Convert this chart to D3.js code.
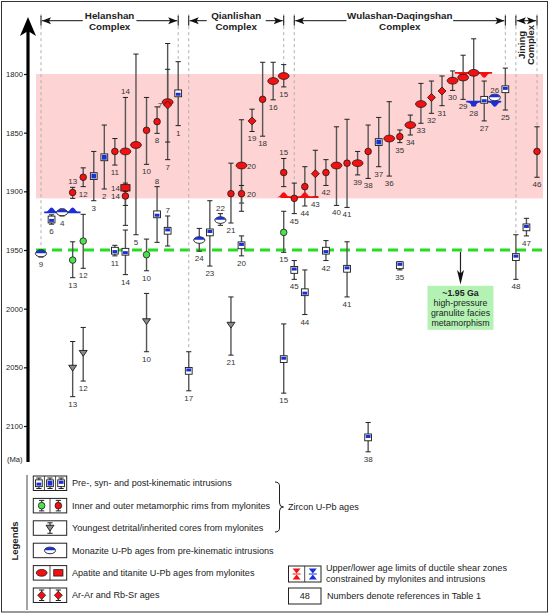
<!DOCTYPE html>
<html>
<head>
<meta charset="utf-8">
<script src="https://d3js.org/d3.v7.min.js"></script>
<style>
  body { margin: 0; background: #fff; }
  svg { display: block; font-family: "Liberation Sans", Arial, sans-serif; }
</style>
</head>
<body>
<svg id="chart"></svg>
<script>
const width = 550,
      height = 615;

// tectonic complexes, given as first / last sample slot
const complexes = [
  { name: ["Helanshan", "Complex"], from: 0, to: 13 },
  { name: ["Qianlishan", "Complex"], from: 14, to: 23 },
  { name: ["Wulashan-Daqingshan", "Complex"], from: 24, to: 44 },
  { name: ["Jining", "Complex"], from: 45, to: 47, vertical: true }
];
// dashed separators: [slot, lowest age reached]
const separators = [[0, 1948], [13, 1790], [14, 2035], [23, 1792], [24, 1905], [44, 1795], [45, 1937], [47, 1845]];

const ageTicks = [1800, 1850, 1900, 1950, 2000, 2050, 2100];
const shearBand = [1800, 1906];
const hpAge = 1950;

// all rows: [slot, age, young limit, old limit, ref no., label side]
// zircon U-Pb, intrusions (pre / syn / post kinematic)
const intrusions = [
  [1, 1924, 1920, 1928, "6", "b", "pre"],
  [5, 1887, 1866, 1908, "3", "b", "syn"],
  [6, 1871, 1843.5, 1898, "2", "b", "syn"],
  [7, 1950.6, 1946, 1955, "11", "b", "pre"],
  [8, 1951.5, 1933, 1971, "14", "b", "pre"],
  [11, 1919.6, 1896, 1943.5, "8", "a", "pre"],
  [12, 1933.6, 1921, 1946.6, "7", "a", "post"],
  [13, 1816.5, 1789.5, 1844, "1", "b", "pre"],
  [14, 2053, 2036.7, 2070, "17", "b", "post"],
  [16, 1935, 1908, 1963.7, "23", "b", "post"],
  [19, 1946, 1938, 1955, "20", "b", "post"],
  [23, 2043, 2013, 2072, "15", "b", "post"],
  [24, 1967, 1959, 1975, "45", "b", "post"],
  [25, 1986, 1967, 2005, "44", "b", "pre"],
  [27, 1950.6, 1942, 1959, "42", "b", "pre"],
  [29, 1966, 1943, 1990, "41", "b", "post"],
  [31, 2109.7, 2097, 2122, "38", "b", "post"],
  [32, 1858, 1837, 1879, "37", "b", "syn"],
  [34, 1963, 1960, 1967, "35", "b", "post"],
  [42, 1822, 1806, 1840, "27", "b", "pre"],
  [44, 1813, 1795, 1830.7, "25", "b", "post"],
  [45, 1956, 1937, 1975, "48", "b", "post"],
  [46, 1930.7, 1923, 1938, "47", "b", "post"]
];
// zircon U-Pb, outer metamorphic rims
const outerRims = [
  [3, 1901, 1896.6, 1906, "13", "a"],
  [4, 1888, 1880, 1896, "12", "b"],
  [7, 1866, 1855, 1877.6, "11", "b"],
  [8, 1904, 1900, 1912, "14", "l"],
  [10, 1848, 1820, 1877, "10", "b"],
  [11, 1840.6, 1828, 1850.6, "8", "b"],
  [18, 1902, 1876, 1927, "21", "b"],
  [19, 1902, 1895, 1917, "20", "r"],
  [21, 1821.6, 1790, 1853, "18", "b"],
  [23, 1884, 1872, 1896, "15", "a"],
  [24, 1906, 1893, 1919, "45", "b"],
  [25, 1896, 1879, 1912.5, "44", "b"],
  [27, 1884, 1873, 1895, "42", "b"],
  [29, 1876, 1838.6, 1913.7, "41", "b"],
  [31, 1866, 1843.5, 1889, "38", "b"],
  [34, 1853.4, 1847.7, 1858.5, "35", "b"],
  [47, 1866, 1845, 1888, "46", "b"]
];
// zircon U-Pb, inner metamorphic rims
const innerRims = [
  [3, 1958.6, 1943, 1973.6, "13", "b"],
  [4, 1942.4, 1919.6, 1965.6, "12", "b"],
  [10, 1954, 1940.7, 1967.7, "10", "b"],
  [23, 1935, 1917, 1952, "15", "b"]
];
// zircon U-Pb, youngest detrital / inherited cores
const detritalCores = [
  [3, 2050.6, 2028, 2075, "13", "b"],
  [4, 2038, 2016, 2061.7, "12", "b"],
  [10, 2011, 1987, 2036.7, "10", "b"],
  [18, 2014, 1990, 2039.6, "21", "b"]
];
const monazite = [
  [0, 1953, 1950, 1956, "9", "b"],
  [2, 1918, 1915, 1921, "4", "b"],
  [15, 1941.5, 1931.6, 1951, "24", "b"],
  [17, 1924.5, 1919, 1929, "22", "a"],
  [43, 1820, 1818.5, 1822, "26", "a"]
];
const apatite = [
  [8, 1866, 1820, 1929, "14", "a"],
  [9, 1860.5, 1783, 1937, "5", "b"],
  [12, 1824, 1774, 1873, "7", "b"],
  [19, 1878, 1839, 1910, "20", "r"],
  [22, 1806, 1790, 1822, "16", "b"],
  [23, 1801.7, 1792, 1811, "15", "b"],
  [28, 1878, 1845, 1912, "40", "b"],
  [30, 1876, 1866, 1886, "39", "b"],
  [33, 1855, 1823.6, 1887, "36", "b"],
  [35, 1843.5, 1835, 1852, "34", "b"],
  [36, 1825.6, 1808, 1842, "33", "b"],
  [39, 1805.7, 1797.4, 1814, "30", "b"],
  [40, 1803, 1784, 1821.6, "29", "b"],
  [41, 1799, 1770, 1827, "28", "b"]
];
const titanite = [
  [8, 1897, 1893, 1906, "14", "l"]
];
const arAr = [
  [12, 1826.4, 1796, 1858, "7", "l"],
  [20, 1840, 1830, 1849, "19", "b"],
  [26, 1885, 1865, 1904.6, "43", "b"],
  [37, 1820, 1806, 1833.5, "32", "b"],
  [38, 1814.5, 1801.7, 1827, "31", "b"]
];
// age limits of shear zones: [from slot, to slot, age, hump slots, upper|lower, hump direction]
const limits = [
  [0.3, 3.75, 1918, [1, 3], "lower", "up"],
  [22.7, 26.3, 1905, [23, 25], "upper", "up"],
  [39.2, 42.75, 1799, [40, 42], "upper", "down"],
  [40.3, 43.6, 1823.6, [41, 43], "lower", "down"]
];

const RED = "#f41010", BLUE = "#1b2fd6", GREEN = "#4fe04f";

const svg = d3.select("#chart")
  .attr("width", width)
  .attr("height", height);

const x = d3.scaleLinear().domain([0, 47]).range([41, 537]);
const y = d3.scaleLinear().domain([1800, 2100]).range([74, 426]);

// frame
svg.append("rect")
  .attr("x", 1.5).attr("y", 1.5)
  .attr("width", 546).attr("height", 610.5)
  .attr("fill", "none").attr("stroke", "#333").attr("stroke-width", 1);

// shear zone band + granulite line
svg.append("rect")
  .attr("x", 36).attr("width", 507)
  .attr("y", y(shearBand[0])).attr("height", y(shearBand[1]) - y(shearBand[0]))
  .attr("fill", "#fdd3d3");

svg.append("line")
  .attr("x1", 36).attr("x2", 543)
  .attr("y1", y(hpAge)).attr("y2", y(hpAge))
  .attr("stroke", "#22dd22").attr("stroke-width", 3)
  .attr("stroke-dasharray", "10,6");

// separators
svg.append("g")
  .selectAll("line")
  .data(separators)
  .join("line")
  .attr("x1", d => x(d[0])).attr("x2", d => x(d[0]))
  .attr("y1", y(1749)).attr("y2", d => y(d[1]))
  .attr("stroke", "#b0b0b0").attr("stroke-width", 1)
  .attr("stroke-dasharray", "3,3");

// complex headers
const headY = 20.7;
function arrowHead(g, px, dir) {
  // dir -1 pointing left, +1 pointing right
  g.append("path")
    .attr("d", `M${px},${headY} L${px - dir * 9},${headY - 3.5} L${px - dir * 7},${headY} L${px - dir * 9},${headY + 3.5} Z`)
    .attr("fill", "#111");
}
complexes.forEach(c => {
  const g = svg.append("g");
  const x0 = x(c.from), x1 = x(c.to), xm = (x0 + x1) / 2;
  [x0, x1].forEach(px => g.append("line")
    .attr("x1", px).attr("x2", px).attr("y1", headY - 5).attr("y2", headY + 5)
    .attr("stroke", "#111").attr("stroke-width", 1));
  if (c.vertical) {
    g.append("line").attr("x1", x0 + 1).attr("x2", x1 - 1).attr("y1", headY).attr("y2", headY)
      .attr("stroke", "#111").attr("stroke-width", 1);
    arrowHead(g, x0 + 1, -1);
    arrowHead(g, x1 - 1, 1);
    c.name.forEach((t, i) => g.append("text")
      .attr("transform", `translate(${xm - 4.5 + i * 9},${45}) rotate(-90)`)
      .attr("text-anchor", "middle").attr("dy", "0.35em")
      .attr("font-size", 9.5).attr("font-weight", "bold").attr("fill", "#222")
      .text(t));
    return;
  }
  const tw = c.name[0].length * 5.3 / 2 + 3;
  g.append("line").attr("x1", x0 + 1).attr("x2", xm - tw).attr("y1", headY).attr("y2", headY)
    .attr("stroke", "#111").attr("stroke-width", 1);
  g.append("line").attr("x1", xm + tw).attr("x2", x1 - 1).attr("y1", headY).attr("y2", headY)
    .attr("stroke", "#111").attr("stroke-width", 1);
  arrowHead(g, x0 + 1, -1);
  arrowHead(g, x1 - 1, 1);
  c.name.forEach((t, i) => g.append("text")
    .attr("x", xm).attr("y", 19 + i * 10.5)
    .attr("text-anchor", "middle")
    .attr("font-size", 9.8).attr("font-weight", "bold").attr("fill", "#222")
    .text(t));
});

// y axis
const axis = svg.append("g")
  .attr("transform", "translate(28,0)")
  .call(d3.axisLeft(y).tickValues(ageTicks).tickSize(4).tickFormat(d3.format("d")));
axis.select(".domain").remove();
axis.selectAll(".tick line").attr("stroke", "#111").attr("stroke-width", 1.2);
axis.selectAll(".tick text")
  .attr("font-family", "Liberation Sans, Arial, sans-serif")
  .attr("font-size", 7.6).attr("fill", "#222").attr("x", -5);

svg.append("line")
  .attr("x1", 28).attr("x2", 28).attr("y1", 30).attr("y2", 462)
  .attr("stroke", "#000").attr("stroke-width", 3.2);
svg.append("path")
  .attr("d", "M28,17 L36,36 L28,31 L20,36 Z")
  .attr("fill", "#000");
svg.append("text")
  .attr("x", 7).attr("y", 461.5)
  .attr("font-size", 7.6).attr("fill", "#222")
  .text("(Ma)");

// marker drawing
function errorBar(g, px, y0, y1) {
  g.append("line").attr("x1", px).attr("x2", px).attr("y1", y0).attr("y2", y1)
    .attr("stroke", "#555").attr("stroke-width", 1.4);
  [y0, y1].forEach(v => g.append("line")
    .attr("x1", px - 2.6).attr("x2", px + 2.6).attr("y1", v).attr("y2", v)
    .attr("stroke", "#222").attr("stroke-width", 1));
}

function drawMarker(g, kind, variant, px, py) {
  const st = "#1a1a1a";
  if (kind === "square") {
    g.append("rect").attr("x", px - 3.4).attr("y", py - 3.4).attr("width", 6.8).attr("height", 6.8)
      .attr("fill", "#fff").attr("stroke", st).attr("stroke-width", 0.9);
    const top = variant === "post" ? py - 2.4 : variant === "syn" ? py - 2.4 : py - 0.6;
    const h = variant === "syn" ? 4.8 : 3;
    g.append("rect").attr("x", px - 2.4).attr("y", top).attr("width", 4.8).attr("height", h)
      .attr("fill", BLUE);
  } else if (kind === "circle") {
    g.append("circle").attr("cx", px).attr("cy", py).attr("r", 3.3)
      .attr("fill", variant === "inner" ? GREEN : RED).attr("stroke", st).attr("stroke-width", 0.8);
  } else if (kind === "tri") {
    g.append("path").attr("d", `M${px - 4},${py - 2.8} L${px + 4},${py - 2.8} L${px},${py + 3} Z`)
      .attr("fill", "#8a8a8a").attr("stroke", st).attr("stroke-width", 0.9);
  } else if (kind === "monazite") {
    g.append("ellipse").attr("cx", px).attr("cy", py).attr("rx", 5.6).attr("ry", 3.3)
      .attr("fill", "#fff").attr("stroke", st).attr("stroke-width", 0.9);
    g.append("path").attr("d", `M${px - 5.2},${py - 0.3} A5.2 3 0 0 1 ${px + 5.2},${py - 0.3} Z`)
      .attr("fill", BLUE);
  } else if (kind === "apatite") {
    g.append("ellipse").attr("cx", px).attr("cy", py).attr("rx", 5.4).attr("ry", 3.4)
      .attr("fill", RED).attr("stroke", st).attr("stroke-width", 0.8);
  } else if (kind === "titanite") {
    g.append("rect").attr("x", px - 4.6).attr("y", py - 3.2).attr("width", 9.2).attr("height", 6.4)
      .attr("fill", RED).attr("stroke", st).attr("stroke-width", 0.8);
  } else if (kind === "arar") {
    g.append("path").attr("d", `M${px},${py - 4} L${px + 4},${py} L${px},${py + 4} L${px - 4},${py} Z`)
      .attr("fill", RED).attr("stroke", st).attr("stroke-width", 0.8);
  }
}

const groups = [
  { rows: intrusions, kind: "square" },
  { rows: innerRims, kind: "circle", variant: "inner" },
  { rows: detritalCores, kind: "tri" },
  { rows: monazite, kind: "monazite" },
  { rows: apatite, kind: "apatite" },
  { rows: titanite, kind: "titanite" },
  { rows: arAr, kind: "arar" },
  { rows: outerRims, kind: "circle", variant: "outer" }
];

const barLayer = svg.append("g");
const markLayer = svg.append("g");
const labelLayer = svg.append("g")
  .attr("font-size", 8).attr("fill", "#333");

groups.forEach(gr => {
  gr.rows.forEach(r => {
    const [slot, age, young, old, ref, side] = r;
    const px = x(slot);
    errorBar(barLayer, px, y(young), y(old));
  });
});

groups.forEach(gr => {
  gr.rows.forEach(r => {
    const [slot, age, young, old, ref, side, variant] = r;
    const px = x(slot), py = y(age);
    drawMarker(markLayer, gr.kind, gr.variant || variant, px, py);
    const t = labelLayer.append("text").text(ref);
    if (side === "a") t.attr("x", px).attr("y", y(young) - 3).attr("text-anchor", "middle");
    else if (side === "l") t.attr("x", px - 5.5).attr("y", py + 3).attr("text-anchor", "end");
    else if (side === "r") t.attr("x", px + 5.5).attr("y", py + 3).attr("text-anchor", "start");
    else t.attr("x", px).attr("y", y(old) + 10).attr("text-anchor", "middle");
  });
});

// shear-zone age limits
function hump(cx, cy, dir, w, h) {
  const t = cy - dir * h;
  return `M${cx - w},${cy} C${cx - w / 2.4},${cy} ${cx - w / 3.5},${t} ${cx},${t} ` +
         `C${cx + w / 3.5},${t} ${cx + w / 2.4},${cy} ${cx + w},${cy} Z`;
}
const limitLayer = svg.append("g");
limits.forEach(([s0, s1, age, humps, type, dir]) => {
  const col = type === "upper" ? RED : BLUE;
  limitLayer.append("line")
    .attr("x1", x(s0)).attr("x2", x(s1)).attr("y1", y(age)).attr("y2", y(age))
    .attr("stroke", col).attr("stroke-width", 1.8);
  humps.forEach(s => limitLayer.append("path")
    .attr("d", hump(x(s), y(age), dir === "up" ? 1 : -1, 7.5, 5))
    .attr("fill", col));
});
// keep markers and labels above the limit lines
markLayer.raise();
labelLayer.raise();

// ~1.95 Ga annotation
const annSlot = 39.75;
svg.append("line")
  .attr("x1", x(annSlot)).attr("x2", x(annSlot))
  .attr("y1", y(1951.5)).attr("y2", y(1972))
  .attr("stroke", "#222").attr("stroke-width", 1.2);
svg.append("path")
  .attr("d", `M${x(annSlot)},${y(1979.5)} L${x(annSlot) + 3.5},${y(1967)} L${x(annSlot)},${y(1970)} L${x(annSlot) - 3.5},${y(1967)} Z`)
  .attr("fill", "#111");
svg.append("rect")
  .attr("x", x(annSlot) - 33).attr("width", 66)
  .attr("y", y(1980.5)).attr("height", 44)
  .attr("fill", "#b4f2b4");
const annText = ["~1.95 Ga", "high-pressure", "granulite facies", "metamorphism"];
svg.append("g")
  .selectAll("text")
  .data(annText)
  .join("text")
  .attr("x", x(annSlot))
  .attr("y", (d, i) => y(1980.5) + 10.5 + i * 10)
  .attr("text-anchor", "middle")
  .attr("font-size", 8.8)
  .attr("font-weight", (d, i) => i === 0 ? "bold" : "normal")
  .attr("fill", "#222")
  .text(d => d);

// legend
const legendRows = [
  { text: "Pre-, syn- and post-kinematic intrusions", cells: [["square", "pre"], ["square", "syn"], ["square", "post"]], bars: true },
  { text: "Inner and outer metamorphic rims from mylonites", cells: [["circle", "inner"], ["circle", "outer"]], bars: true },
  { text: "Youngest detrital/inherited cores from mylonites", cells: [["tri"]], bars: true },
  { text: "Monazite U-Pb ages from pre-kinematic intrusions", cells: [["monazite"]] },
  { text: "Apatite and titanite U-Pb ages from mylonites", cells: [["apatite"], ["titanite"]] },
  { text: "Ar-Ar and Rb-Sr ages", cells: [["arar"], ["arar"]], bars: true }
];
const legendFont = 9.1;

const legend = svg.append("g");
legend.append("line")
  .attr("x1", 27).attr("x2", 27).attr("y1", 475).attr("y2", 610)
  .attr("stroke", "#666").attr("stroke-width", 1.2);
legend.append("text")
  .attr("transform", "translate(15,541) rotate(-90)")
  .attr("text-anchor", "middle").attr("dy", "0.35em")
  .attr("font-size", 9.5).attr("font-weight", "bold").attr("fill", "#222")
  .text("Legends");

legendRows.forEach((row, i) => {
  const top = 476 + i * 22.4, bw = 33.4, bx = 33.3, bh = 14.5, cy = top + bh / 2;
  const g = legend.append("g");
  g.append("rect").attr("x", bx).attr("y", top).attr("width", bw).attr("height", bh)
    .attr("fill", "#fff").attr("stroke", "#222").attr("stroke-width", 1);
  const cw = bw / row.cells.length;
  row.cells.forEach((c, j) => {
    const cx = bx + cw * (j + 0.5);
    if (j > 0) g.append("line").attr("x1", bx + cw * j).attr("x2", bx + cw * j)
      .attr("y1", top).attr("y2", top + bh).attr("stroke", "#222").attr("stroke-width", 0.8);
    if (row.bars) errorBar(g, cx, top + 2, top + bh - 2);
    drawMarker(g, c[0], c[1], cx, cy);
  });
  g.append("text").attr("x", 72).attr("y", cy + 3.2)
    .attr("font-size", legendFont).attr("fill", "#222").text(row.text);
});

legend.append("path")
  .attr("d", "M275,482 Q279.5,482 279.5,486 L279.5,503 Q279.5,507 283.5,507 Q279.5,507 279.5,511 L279.5,528 Q279.5,532 275,532")
  .attr("fill", "none").attr("stroke", "#222").attr("stroke-width", 1);
legend.append("text").attr("x", 288).attr("y", 510)
  .attr("font-size", legendFont).attr("fill", "#222").text("Zircon U-Pb ages");

// limits key
const lk = legend.append("g");
lk.append("rect").attr("x", 288.5).attr("y", 566).attr("width", 32.5).attr("height", 16)
  .attr("fill", "#fff").attr("stroke", "#222").attr("stroke-width", 1);
lk.append("line").attr("x1", 304.7).attr("x2", 304.7).attr("y1", 566).attr("y2", 582)
  .attr("stroke", "#222").attr("stroke-width", 0.8);
[RED, BLUE].forEach((col, j) => {
  const cx = 296.6 + j * 16.2, cy = 574;
  lk.append("path").attr("d", `M${cx - 4},${cy - 5.5} L${cx + 4},${cy - 5.5} L${cx},${cy - 0.5} Z`).attr("fill", col);
  lk.append("path").attr("d", `M${cx - 4},${cy + 5.5} L${cx + 4},${cy + 5.5} L${cx},${cy + 0.5} Z`).attr("fill", col);
  lk.append("line").attr("x1", cx - 4).attr("x2", cx + 4).attr("y1", cy).attr("y2", cy)
    .attr("stroke", col).attr("stroke-width", 1);
});
lk.append("text").attr("x", 326).attr("y", 571).attr("font-size", legendFont).attr("fill", "#222")
  .text("Upper/lower age limits of ductile shear zones");
lk.append("text").attr("x", 326).attr("y", 581.5).attr("font-size", legendFont).attr("fill", "#222")
  .text("constrained by mylonites and intrusions");
lk.append("rect").attr("x", 288.5).attr("y", 588).attr("width", 32.5).attr("height", 16)
  .attr("fill", "#fff").attr("stroke", "#222").attr("stroke-width", 1);
lk.append("text").attr("x", 304.7).attr("y", 599.2).attr("text-anchor", "middle")
  .attr("font-size", legendFont).attr("fill", "#222").text("48");
lk.append("text").attr("x", 327).attr("y", 599.2).attr("font-size", legendFont).attr("fill", "#222")
  .text("Numbers denote references in Table 1");
</script>
</body>
</html>
